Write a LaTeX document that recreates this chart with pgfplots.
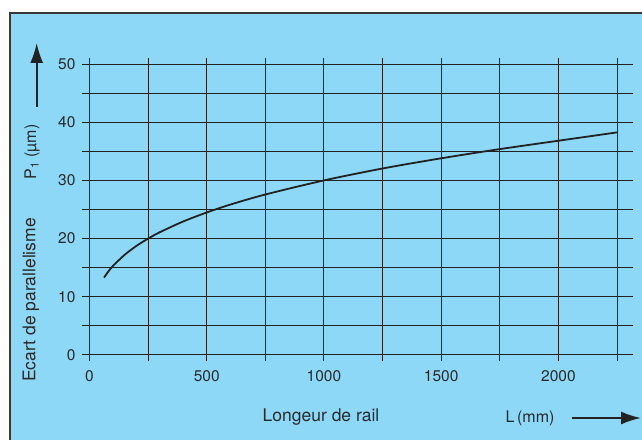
\documentclass[border=0pt]{standalone}
\usepackage{pgfplots}
\pgfplotsset{compat=1.18}
\usepackage{fontspec}
\setmainfont{TeX Gyre Heros}
\usetikzlibrary{arrows.meta}
\definecolor{bgblue}{HTML}{8DD8F7}
\definecolor{txt}{HTML}{2A2A2A}
\definecolor{gridc}{HTML}{222222}
\begin{document}
\begin{tikzpicture}[x=1pt,y=1pt]
\useasboundingbox (0,0) rectangle (642,440);
\fill[bgblue] (10,0) rectangle (642,427);
\draw[gridc!90, line width=1.3pt] (10,0) -- (10,427) -- (642,427);
\begin{axis}[
  at={(82pt,79.2pt)}, anchor=south west,
  width=551pt, height=302.6pt, scale only axis,
  xmin=-32, xmax=2318, ymin=-1, ymax=51,
  axis line style={draw=none},
  major tick length=0pt,
  xtick={0,250,...,2250},
  xticklabels={0,,500,,1000,,1500,,2000,},
  ytick={0,5,...,50},
  yticklabels={0,,10,,20,,30,,40,,50},
  grid=major,
  grid style={gridc, line width=1.0pt},
  tick label style={font=\fontsize{15.5}{18}\selectfont, text=txt},
  xticklabel style={yshift=-6pt},
  yticklabel style={xshift=-3pt},
  /pgf/number format/assume math mode=true,
]
\addplot[gridc, line width=1.8pt, smooth] coordinates {
 (62,13.30) (80,14.33) (100,15.30) (150,17.22) (200,18.74) (250,20.00)
 (300,21.10) (400,22.95) (500,24.49) (600,25.84) (750,27.58) (1000,30.00)
 (1250,32.05) (1500,33.80) (1750,35.38) (2000,36.82) (2250,38.25)
};
\end{axis}
\node[rotate=90, text=txt, font=\fontsize{17.5}{20}\selectfont] at (31,140) {Ecart de parallelisme};
\node[rotate=90, text=txt, font=\fontsize{16}{19}\selectfont] at (32,288) {P\textsubscript{1} (µm)};
\draw[gridc, line width=2pt, -{Latex[length=20pt,width=13pt]}] (36.7,333) -- (36.7,397);
\node[text=txt, font=\fontsize{17.5}{20}\selectfont] at (321,23) {Longeur de rail};
\node[text=txt, font=\fontsize{16}{19}\selectfont] at (530,22) {L\,(mm)};
\draw[gridc, line width=2pt, -{Latex[length=20pt,width=13pt]}] (572,22) -- (641,22);
\end{tikzpicture}
\end{document}
